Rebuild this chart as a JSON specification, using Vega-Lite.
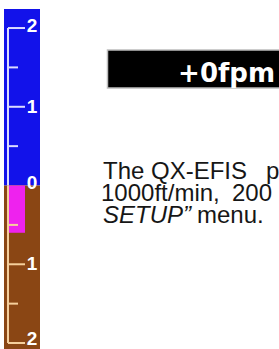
{
  "$schema": "https://vega.github.io/schema/vega-lite/v6.json",
  "width": 279,
  "height": 349,
  "autosize": {"type": "none"},
  "padding": 0,
  "background": "white",
  "config": {"view": {"stroke": null}},
  "datasets": {
    "bands": [
      {"x": 4, "x2": 40, "y": 0, "y2": 2.241, "zone": "climb"},
      {"x": 4, "x2": 40, "y": -2.076, "y2": 0, "zone": "descent"}
    ],
    "trend": [{"x": 8, "x2": 25, "y": 0, "y2": -0.6}],
    "spine": [
      {"x": 8, "y": 2, "y2": 0, "zone": "climb"},
      {"x": 8, "y": 0, "y2": -2, "zone": "descent"}
    ],
    "ticks": [
      {"v": 2, "x": 8, "x2": 25, "zone": "climb"},
      {"v": 1.5, "x": 8, "x2": 18, "zone": "climb"},
      {"v": 1, "x": 8, "x2": 25, "zone": "climb"},
      {"v": 0.5, "x": 8, "x2": 18, "zone": "climb"},
      {"v": -0.5, "x": 8, "x2": 18, "zone": "descent"},
      {"v": -1, "x": 8, "x2": 25, "zone": "descent"},
      {"v": -1.5, "x": 8, "x2": 18, "zone": "descent"},
      {"v": -2, "x": 8, "x2": 25, "zone": "descent"}
    ],
    "labels": [
      {"v": 2.02, "x": 32, "label": "2"},
      {"v": 1, "x": 32, "label": "1"},
      {"v": 0.03, "x": 32, "label": "0"},
      {"v": -1, "x": 32, "label": "1"},
      {"v": -1.95, "x": 32, "label": "2"}
    ],
    "box": [{"x": 107.5, "x2": 290, "y": 1.72, "y2": 1.238}],
    "readout": [{"x": 275, "y": 1.42, "label": "+0fpm"}],
    "body": [
      {"x": 103, "y": 0.0825, "label": "The"},
      {"x": 151, "y": 0.0825, "label": "QX-EFIS"},
      {"x": 266, "y": 0.0825, "label": "p"},
      {"x": 101, "y": -0.197, "label": "1000ft/min,"},
      {"x": 232, "y": -0.197, "label": "200"},
      {"x": 197, "y": -0.476, "label": "menu."}
    ],
    "bodyItalic": [
      {"x": 103, "y": -0.476, "label": "SETUP”"}
    ]
  },
  "layer": [
    {
      "data": {"name": "bands"},
      "mark": {"type": "rect"},
      "encoding": {
        "x": {"field": "x", "type": "quantitative", "scale": {"domain": [0, 279], "nice": false, "zero": false}, "axis": null},
        "x2": {"field": "x2"},
        "y": {"field": "y", "type": "quantitative", "scale": {"domain": [-2.076, 2.356], "nice": false, "zero": false}, "axis": null},
        "y2": {"field": "y2"},
        "color": {"field": "zone", "type": "nominal", "scale": {"domain": ["climb", "descent"], "range": ["#1212ea", "#8a4614"]}, "legend": null}
      }
    },
    {
      "data": {"name": "trend"},
      "mark": {"type": "rect", "color": "#ee22ee"},
      "encoding": {
        "x": {"field": "x", "type": "quantitative"},
        "x2": {"field": "x2"},
        "y": {"field": "y", "type": "quantitative"},
        "y2": {"field": "y2"}
      }
    },
    {
      "data": {"name": "spine"},
      "mark": {"type": "rule", "strokeWidth": 2},
      "encoding": {
        "x": {"field": "x", "type": "quantitative"},
        "y": {"field": "y", "type": "quantitative"},
        "y2": {"field": "y2"},
        "stroke": {"field": "zone", "type": "nominal", "scale": {"domain": ["climb", "descent"], "range": ["#dcdcff", "#f5cf9c"]}, "legend": null}
      }
    },
    {
      "data": {"name": "ticks"},
      "mark": {"type": "rule", "strokeWidth": 2},
      "encoding": {
        "x": {"field": "x", "type": "quantitative"},
        "x2": {"field": "x2"},
        "y": {"field": "v", "type": "quantitative"},
        "stroke": {"field": "zone", "type": "nominal", "legend": null}
      }
    },
    {
      "data": {"name": "labels"},
      "mark": {"type": "text", "font": "Liberation Sans", "fontSize": 19, "fontWeight": "bold", "color": "white", "align": "center", "baseline": "middle"},
      "encoding": {
        "x": {"field": "x", "type": "quantitative"},
        "y": {"field": "v", "type": "quantitative"},
        "text": {"field": "label"}
      }
    },
    {
      "data": {"name": "box"},
      "mark": {"type": "rect", "color": "black", "stroke": "#bdbdbd", "strokeWidth": 1.5},
      "encoding": {
        "x": {"field": "x", "type": "quantitative"},
        "x2": {"field": "x2"},
        "y": {"field": "y", "type": "quantitative"},
        "y2": {"field": "y2"}
      }
    },
    {
      "data": {"name": "readout"},
      "mark": {"type": "text", "font": "DejaVu Sans", "fontSize": 26, "fontWeight": "bold", "color": "white", "align": "right", "baseline": "middle"},
      "encoding": {
        "x": {"field": "x", "type": "quantitative"},
        "y": {"field": "y", "type": "quantitative"},
        "text": {"field": "label"}
      }
    },
    {
      "data": {"name": "body"},
      "mark": {"type": "text", "font": "Liberation Sans", "fontSize": 24, "color": "#161616", "align": "left", "baseline": "alphabetic"},
      "encoding": {
        "x": {"field": "x", "type": "quantitative"},
        "y": {"field": "y", "type": "quantitative"},
        "text": {"field": "label"}
      }
    },
    {
      "data": {"name": "bodyItalic"},
      "mark": {"type": "text", "font": "Liberation Sans", "fontSize": 24, "fontStyle": "italic", "color": "#161616", "align": "left", "baseline": "alphabetic"},
      "encoding": {
        "x": {"field": "x", "type": "quantitative"},
        "y": {"field": "y", "type": "quantitative"},
        "text": {"field": "label"}
      }
    }
  ]
}
